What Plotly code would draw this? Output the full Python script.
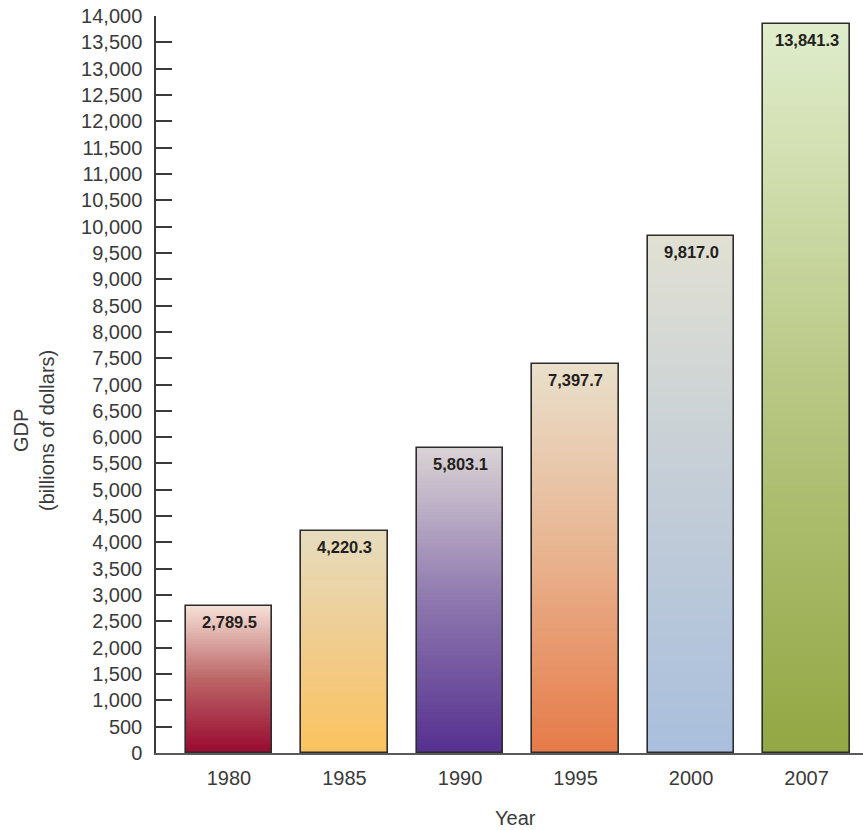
import plotly.graph_objects as go
from plotly.colors import sample_colorscale

# GDP by year, billions of dollars
years = ["1980", "1985", "1990", "1995", "2000", "2007"]
gdp = [2789.5, 4220.3, 5803.1, 7397.7, 9817.0, 13841.3]
labels = ["2,789.5", "4,220.3", "5,803.1", "7,397.7", "9,817.0", "13,841.3"]

# vertical gradient per bar: bottom -> middle -> top
gradients = [
    ["#98082f", "#bb6466", "#f6dfd6"],
    ["#fbc35e", "#f0cc8f", "#e6dcbf"],
    ["#553090", "#8e78ae", "#dad3d5"],
    ["#e67a48", "#e8b28e", "#e9e0cb"],
    ["#a9bfdd", "#c3cdd7", "#e1e0d3"],
    ["#93a743", "#b8c783", "#e0edcc"],
]

FONT = "Liberation Sans, Arial, sans-serif"
TEXT = "#3a3a3a"

x = list(range(len(years)))
bar_w = 0.745
n_slices = 90

fig = go.Figure()

# Build each gradient bar from thin stacked slices
for i in range(n_slices):
    t = (i + 0.5) / n_slices
    colors = []
    for g in gradients:
        scale = [[0.0, g[0]], [0.5, g[1]], [1.0, g[2]]]
        colors.append(sample_colorscale(scale, [t])[0])
    fig.add_trace(go.Bar(
        x=x,
        y=[v / n_slices * 1.02 for v in gdp],
        base=[v * i / n_slices for v in gdp],
        width=bar_w,
        marker=dict(color=colors, line=dict(width=0)),
        hoverinfo="skip",
        showlegend=False,
    ))

# Outline on top of each bar, clipped to the exact value
fig.add_trace(go.Bar(
    x=x,
    y=gdp,
    width=bar_w,
    marker=dict(color="rgba(0,0,0,0)", line=dict(color="#2e2c2c", width=1.6)),
    hovertemplate="%{y:,.1f}<extra></extra>",
    showlegend=False,
))

# Value labels inside the top of each bar
for xi, v, lab in zip(x, gdp, labels):
    fig.add_annotation(
        x=xi, y=v, text=lab, showarrow=False,
        yanchor="middle", yshift=-16,
        font=dict(family=FONT, size=16.5, color="#231f20", weight="bold"),
    )

# Axis titles
fig.add_annotation(
    xref="paper", yref="paper", x=0, y=0.437,
    xanchor="center", yanchor="middle", xshift=-122,
    text="GDP<br>(billions of dollars)", textangle=-90, showarrow=False,
    font=dict(family=FONT, size=20, color=TEXT),
)
fig.add_annotation(
    xref="paper", yref="paper", x=0.5, y=0,
    xanchor="center", yanchor="middle", xshift=6, yshift=-65,
    text="Year", showarrow=False,
    font=dict(family=FONT, size=20, color=TEXT),
)

fig.update_layout(
    width=863, height=830,
    margin=dict(l=156, r=0, t=16, b=77),
    plot_bgcolor="white", paper_bgcolor="white",
    barmode="overlay",
    bargap=0,
    font=dict(family=FONT, size=20, color=TEXT),
    xaxis=dict(
        range=[-0.632, 5.489],
        tickvals=x, ticktext=years,
        showgrid=False, zeroline=False,
        showline=True, linecolor="#5a5a5a", linewidth=1.5,
        ticks="", ticklabelstandoff=6,
        tickfont=dict(family=FONT, size=20, color=TEXT),
    ),
    yaxis=dict(
        range=[0, 14000],
        tickmode="linear", tick0=0, dtick=500,
        tickformat=",",
        showgrid=False, zeroline=False,
        showline=True, linecolor=TEXT, linewidth=1.5,
        ticks="inside", ticklen=16, tickwidth=1.5, tickcolor=TEXT,
        ticklabelstandoff=8,
        tickfont=dict(family=FONT, size=20, color=TEXT),
    ),
)

fig.write_html("out.html")
